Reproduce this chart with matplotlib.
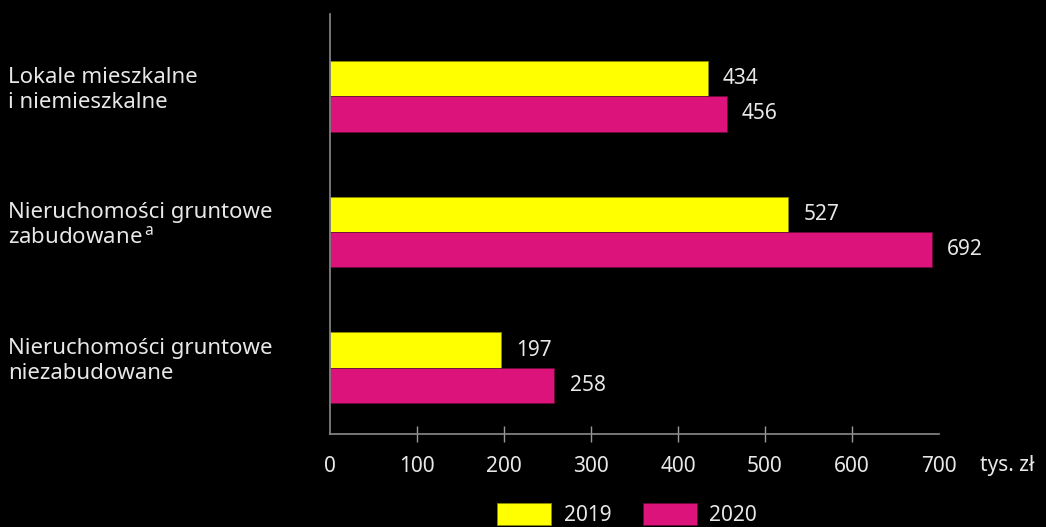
import matplotlib.pyplot as plt
from matplotlib.patches import Patch
import matplotlib.transforms as mtransforms

categories = ["Lokale mieszkalne\ni niemieszkalne",
              "Nieruchomości gruntowe\nzabudowane$^{\\,\\mathrm{a}}$",
              "Nieruchomości gruntowe\nniezabudowane"]
years = ["2019", "2020"]
values_2019 = [434, 527, 197]
values_2020 = [456, 692, 258]
xticks = [0, 100, 200, 300, 400, 500, 600, 700]
unit = "tys. zł"

yellow = "#FFFF00"
pink = "#DC137A"
txt = "#E8E8E8"

plt.rcParams['font.family'] = ['Noto Sans', 'DejaVu Sans']
plt.rcParams['mathtext.fontset'] = 'custom'
plt.rcParams['mathtext.rm'] = 'Noto Sans'

fig = plt.figure(figsize=(10.46, 5.27), dpi=100, facecolor='black')
ax = fig.add_axes([330/1046, 1 - 434/527, 609/1046, 420/527])
ax.set_facecolor('black')

h = 0.26
pos = range(len(categories))
b1 = ax.barh([p - h/2 for p in pos], values_2019, height=h, color=yellow,
             edgecolor='#8a8a00', linewidth=0.6)
b2 = ax.barh([p + h/2 for p in pos], values_2020, height=h, color=pink,
             edgecolor='#6a0a3a', linewidth=0.6)

for bars, vals in [(b1, values_2019), (b2, values_2020)]:
    for bar, v in zip(bars, vals):
        ax.annotate(str(v), (v, bar.get_y() + bar.get_height()/2),
                    xytext=(11, 0), textcoords='offset points',
                    va='center', ha='left', color=txt, fontsize=15)

ax.set_xlim(0, 700)
ax.set_ylim(2.489, -0.607)
ax.set_xticks(xticks)
ax.set_yticks([])
ax.tick_params(axis='x', colors='#9a9a9a', direction='inout', length=11,
               width=1, labelcolor=txt, labelsize=15, pad=10)
ticks = ax.xaxis.get_major_ticks()
ticks[0].tick1line.set_visible(False)
ticks[-1].tick1line.set_visible(False)
for s in ['top', 'right']:
    ax.spines[s].set_visible(False)
for s in ['left', 'bottom']:
    ax.spines[s].set_color('#8a8a8a')
    ax.spines[s].set_linewidth(1.2)

# category labels on the left
trans = mtransforms.blended_transform_factory(fig.transFigure, ax.transData)
for p, c in zip(pos, categories):
    ax.text(8/1046, p - 0.05, c, transform=trans, ha='left', va='center',
            color=txt, fontsize=16, linespacing=1.25)

fig.text(980/1046, 1 - 465/527, unit, color=txt, fontsize=15,
         ha='left', va='center')

handles = [Patch(facecolor=yellow, edgecolor='#8a8a00', linewidth=0.6),
           Patch(facecolor=pink, edgecolor='#6a0a3a', linewidth=0.6)]
fig.legend(handles, years, loc='upper center', bbox_to_anchor=(627/1046, 1 - 499/527),
           ncol=2, frameon=False, fontsize=15, labelcolor=txt,
           handlelength=2.6, handleheight=1.2, columnspacing=1.5,
           handletextpad=0.6, borderaxespad=0, borderpad=0.2)

plt.savefig('out.png', dpi=100, facecolor='black')
